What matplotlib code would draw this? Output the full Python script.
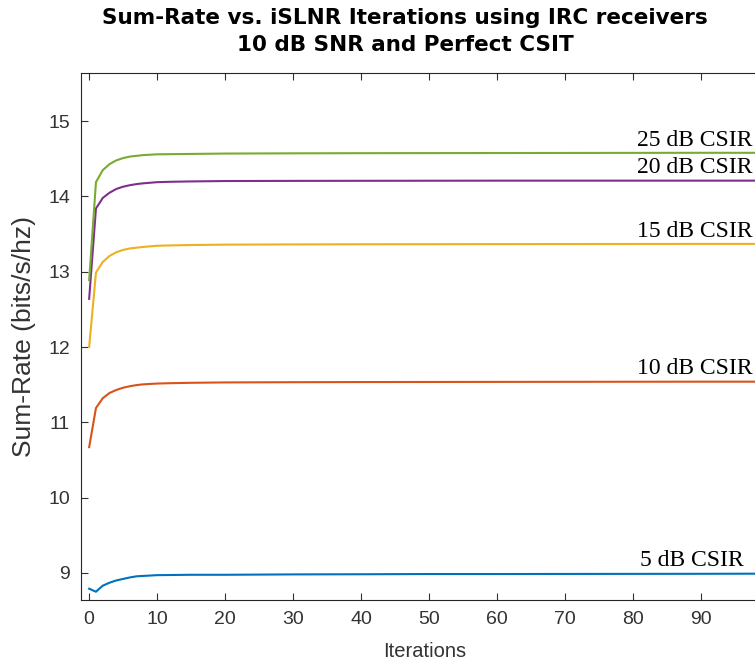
import numpy as np
import matplotlib.pyplot as plt

plt.rcParams['font.family'] = ['Liberation Sans', 'DejaVu Sans']

iters = [0, 1, 2, 3, 4, 5, 6, 7, 8, 10, 12, 15, 20, 30, 40, 50, 60, 70, 80, 90, 100]

csir_5 = [8.79, 8.75, 8.83, 8.87, 8.90, 8.92, 8.94, 8.955, 8.96, 8.97, 8.972, 8.975, 8.975,
          8.98, 8.982, 8.985, 8.985, 8.986, 8.987, 8.988, 8.99]
csir_10 = [10.67, 11.19, 11.32, 11.39, 11.43, 11.46, 11.48, 11.495, 11.505, 11.515, 11.52,
           11.525, 11.53, 11.533, 11.535, 11.536, 11.537, 11.538, 11.539, 11.54, 11.54]
csir_15 = [12.0, 12.99, 13.13, 13.21, 13.26, 13.29, 13.31, 13.32, 13.33, 13.345, 13.35,
           13.355, 13.36, 13.363, 13.365, 13.366, 13.367, 13.368, 13.369, 13.37, 13.37]
csir_20 = [12.64, 13.84, 13.98, 14.05, 14.10, 14.13, 14.15, 14.165, 14.175, 14.19, 14.195,
           14.2, 14.205, 14.207, 14.208, 14.209, 14.21, 14.21, 14.21, 14.21, 14.21]
csir_25 = [12.89, 14.19, 14.35, 14.43, 14.48, 14.51, 14.53, 14.54, 14.55, 14.56, 14.562,
           14.565, 14.57, 14.573, 14.575, 14.576, 14.577, 14.578, 14.579, 14.58, 14.58]

series = [csir_5, csir_10, csir_15, csir_20, csir_25]
labels = ['5 dB CSIR', '10 dB CSIR', '15 dB CSIR', '20 dB CSIR', '25 dB CSIR']
colors = ['#0072BD', '#D95319', '#EDB120', '#7E2F8E', '#77AC30']
label_x = [96.3, 97.6, 97.6, 97.6, 97.6]

W, H = 755, 666
fig = plt.figure(figsize=(W / 100, H / 100), dpi=100)
ax = fig.add_axes([81 / W, (H - 600) / H, (769 - 81) / W, (600 - 73) / H])

for ys, c, lab, lx in zip(series, colors, labels, label_x):
    ax.plot(iters, ys, color=c, lw=1.5)
    ax.text(lx, ys[-1] + 0.03, lab, ha='right', va='bottom', color='black',
            fontsize=17, family=['Liberation Serif', 'DejaVu Serif'])

ax.set_xlim(-1.2, 100)
ax.set_ylim(8.64, 15.64)
ax.set_xticks(np.arange(0, 100, 10))
ax.set_yticks(np.arange(9, 16, 1))
ax.tick_params(direction='in', length=5, width=0.8, top=True, right=True,
               labelsize=14, colors='#333333', pad=8)
for s in ax.spines.values():
    s.set_color('#262626')
    s.set_linewidth(0.8)

ax.set_xlabel('Iterations', fontsize=14.5, color='#333333', labelpad=10)
ax.set_ylabel('Sum-Rate (bits/s/hz)', fontsize=19, color='#333333', labelpad=9)

title_font = dict(ha='center', va='center', fontsize=15.5, fontweight='bold',
                  family=['DejaVu Sans'])
fig.text(405 / W, 1 - 18 / H, 'Sum-Rate vs. iSLNR Iterations using IRC receivers', **title_font)
fig.text(405 / W, 1 - 45 / H, '10 dB SNR and Perfect CSIT', **title_font)

fig.savefig('out.png', dpi=100)
